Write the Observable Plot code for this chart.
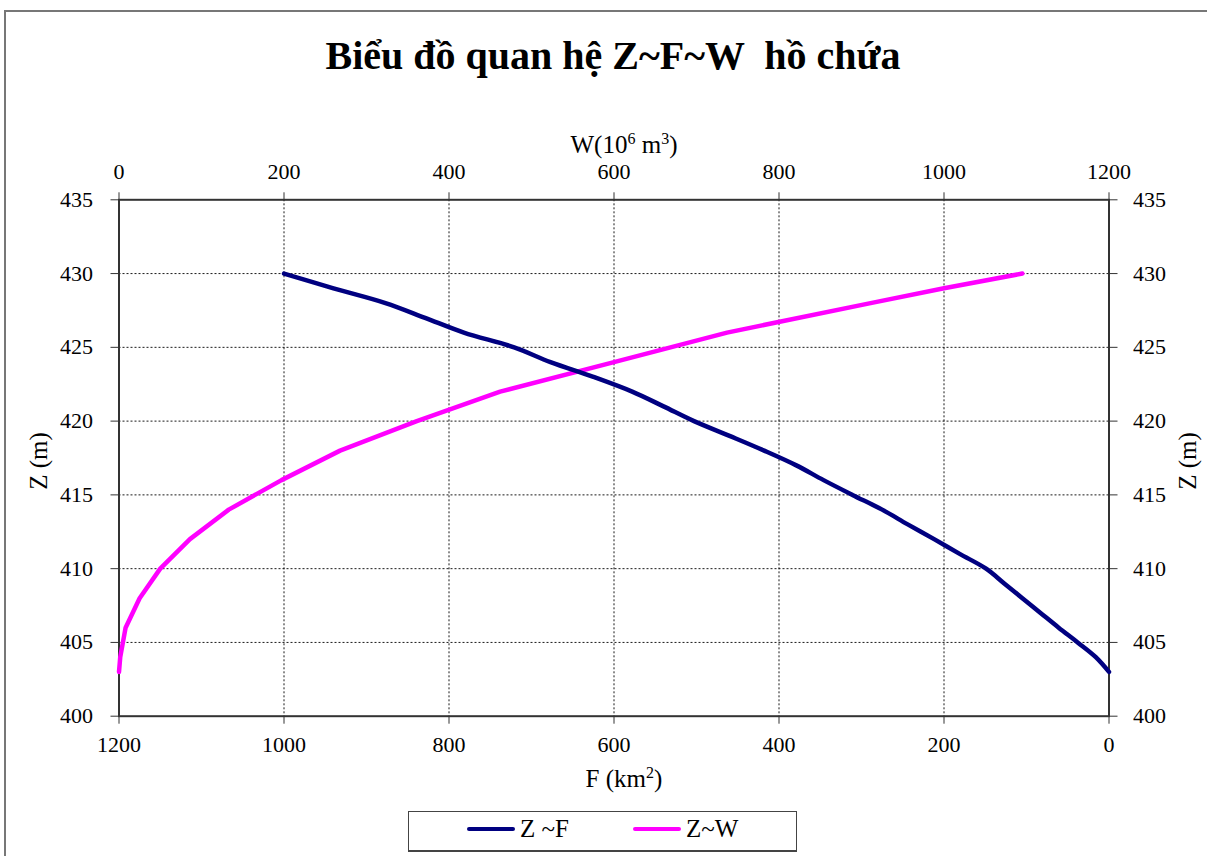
<!DOCTYPE html>
<html>
<head>
<meta charset="utf-8">
<script src="https://cdn.jsdelivr.net/npm/d3@7"></script>
<script src="https://cdn.jsdelivr.net/npm/@observablehq/plot@0.6"></script>
<style>
  html, body { margin: 0; padding: 0; background: #fff; }
  #page, #page * { font-family: "Liberation Serif", "Times New Roman", serif !important; }
  #page svg text { font-family: "Liberation Serif", "Times New Roman", serif !important; font-variant: normal !important; font-variant-numeric: normal !important; }
  #page { position: relative; width: 1207px; height: 856px; overflow: hidden; color: #000; }
  #frameBorder { position: absolute; left: 4px; top: 10px; width: 1240px; height: 900px; border-left: 2px solid #777; border-top: 2px solid #777; box-sizing: border-box; }
  #title { position: absolute; left: 0; width: 1226px; top: 32px; text-align: center; font-weight: bold; font-size: 40px; white-space: pre; }
  #chart { position: absolute; left: 0; top: 120px; }
  .axlabel { position: absolute; font-size: 25px; white-space: nowrap; line-height: 1; }
  .axlabel sup { font-size: 16px; vertical-align: 9px; line-height: 0; }
  #wlabel { left: 0; width: 1248px; text-align: center; top: 132px; }
  #flabel { left: 0; width: 1248px; text-align: center; top: 766px; }
  #zleft { left: 38px; top: 461px; transform: translate(-50%, -50%) rotate(-90deg); }
  #zright { left: 1187px; top: 461px; transform: translate(-50%, -50%) rotate(-90deg); }
  #legend { position: absolute; left: 408px; top: 811px; width: 389px; height: 41px; border: 1px solid #444; border-bottom: 2px solid #444; box-sizing: border-box; font-size: 25px; }
  .lg { position: absolute; top: 2px; display: flex; align-items: center; line-height: 1.2; }
  .lg span.sw { display: inline-block; width: 48px; height: 4px; border-radius: 2px; margin-right: 5px; }
</style>
</head>
<body>
<div id="page">
  <div id="frameBorder"></div>
  <div id="title">Biểu đồ quan hệ Z~F~W  hồ chứa</div>
  <div id="chart"></div>
  <div class="axlabel" id="wlabel">W(10<sup>6</sup> m<sup>3</sup>)</div>
  <div class="axlabel" id="flabel">F (km<sup>2</sup>)</div>
  <div class="axlabel" id="zleft">Z (m)</div>
  <div class="axlabel" id="zright">Z (m)</div>
  <div id="legend"></div>
</div>
<script>
// ---- Data ----
// Z ~ F : water level (m) vs. surface area (km2)
const levelsF = [403, 404, 405, 406, 407, 408, 409, 410, 411, 412, 413, 414, 415, 416,
                 417, 418, 419, 420, 421, 422, 423, 424, 425, 426, 427, 428, 429, 430];
const areaF   = [0, 16, 38, 61, 83, 105, 127, 149, 181, 212, 244, 275, 311, 346,
                 379, 418, 460, 503, 540, 578, 625, 677, 721, 782, 829, 877, 940, 1000];
// Z ~ W : water level (m) vs. volume (10^6 m3)
const levelsW = [403, 404, 406, 408, 410, 412, 414, 416, 418, 420, 422, 424, 426, 428, 429, 430];
const volumeW = [0, 1.5, 8, 25, 50, 86, 133, 197, 268, 361, 462, 600, 737, 911, 1000, 1095];

const seriesNames = ["Z ~F", "Z~W"];
const seriesColors = ["#000080", "#FF00FF"];
const xTicks = [0, 200, 400, 600, 800, 1000, 1200];
const yTicks = [400, 405, 410, 415, 420, 425, 430, 435];
const xMax = 1200;

const zf = levelsF.map((z, i) => ({Z: z, F: areaF[i]}));
const zw = levelsW.map((z, i) => ({Z: z, W: volumeW[i]}));

const axisCommon = {tickSize: 8, fontSize: 22, fontFamily: "Liberation Serif", fontVariant: "normal", stroke: "#333", fill: "#000", label: null};

const chart = Plot.plot({
  width: 1207,
  height: 680,
  marginLeft: 118.5,
  marginRight: 98.5,
  marginTop: 79.3,
  marginBottom: 84.3,
  style: {fontFamily: "Liberation Serif", fontSize: "22px", color: "#000", background: "transparent"},
  x: {domain: [0, xMax]},
  y: {domain: [400, 435]},
  marks: [
    Plot.gridX(xTicks.filter(t => t > 0 && t < xMax), {stroke: "#000", strokeOpacity: 0.9, strokeWidth: 1, strokeDasharray: "2,2"}),
    Plot.gridY(yTicks.filter(t => t > 400 && t < 435), {stroke: "#000", strokeOpacity: 0.9, strokeWidth: 1, strokeDasharray: "2,2"}),
    Plot.axisX({...axisCommon, anchor: "top", ticks: xTicks, tickPadding: 13, tickFormat: d => String(d)}),
    Plot.axisX({...axisCommon, anchor: "bottom", ticks: xTicks, tickPadding: 12, tickFormat: d => String(xMax - d)}),
    Plot.axisY({...axisCommon, anchor: "left", ticks: yTicks, tickPadding: 18, tickFormat: d => String(d)}),
    Plot.axisY({...axisCommon, anchor: "right", ticks: yTicks, tickPadding: 16, tickFormat: d => String(d)}),
    Plot.frame({stroke: "#333", strokeWidth: 2}),
    Plot.line(zw, {x: "W", y: "Z", stroke: seriesColors[1], strokeWidth: 4.5, strokeLinecap: "round", strokeLinejoin: "round"}),
    Plot.line(zf, {x: d => xMax - d.F, y: "Z", stroke: seriesColors[0], strokeWidth: 4.5, strokeLinecap: "round", strokeLinejoin: "round", curve: "catmull-rom"})
  ]
});
document.getElementById("chart").appendChild(chart);

// Legend
const legend = document.getElementById("legend");
const lgX = [58, 224];
seriesNames.forEach((name, i) => {
  const item = document.createElement("div");
  item.className = "lg";
  item.style.left = lgX[i] + "px";
  const sw = document.createElement("span");
  sw.className = "sw";
  sw.style.background = seriesColors[i];
  const tx = document.createElement("span");
  tx.textContent = name;
  item.appendChild(sw);
  item.appendChild(tx);
  legend.appendChild(item);
});
</script>
</body>
</html>
